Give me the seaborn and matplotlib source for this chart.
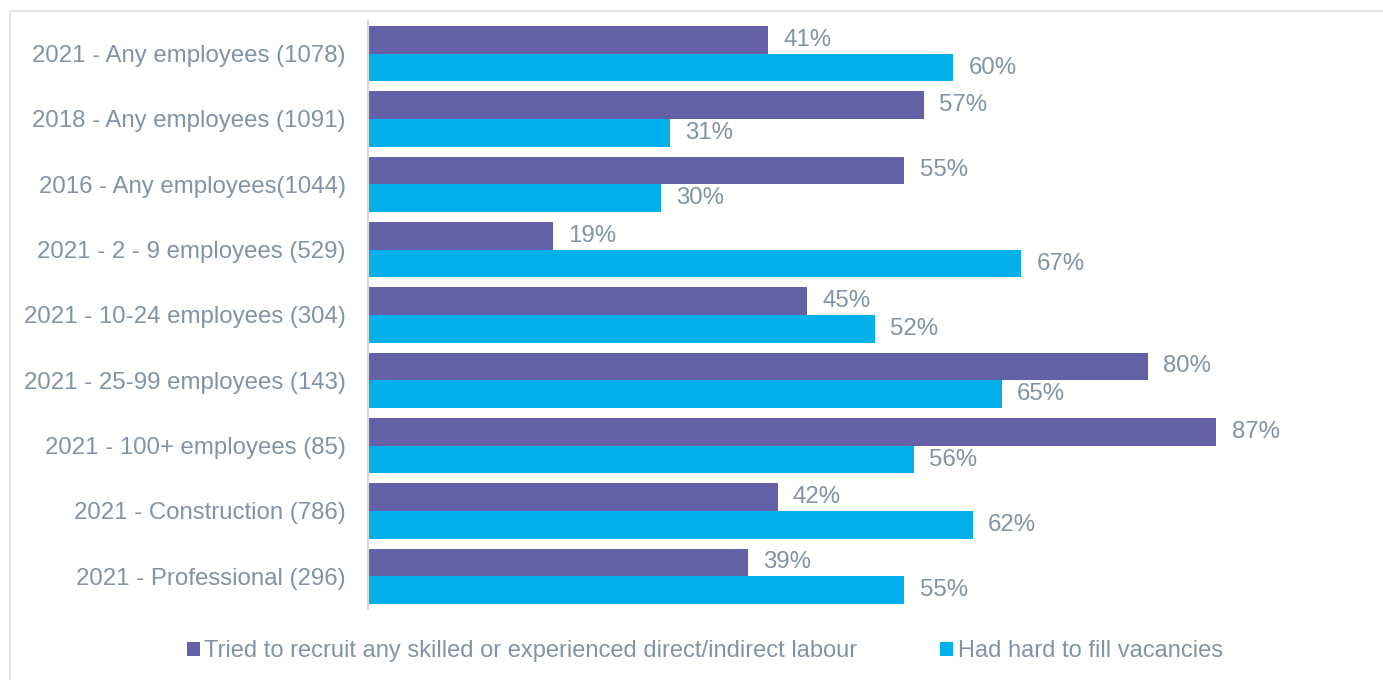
import matplotlib
matplotlib.use("Agg")
import matplotlib.pyplot as plt
from matplotlib.patches import Rectangle, Patch
import seaborn as sns
import pandas as pd

categories = [
    "2021 - Any employees (1078)",
    "2018 - Any employees (1091)",
    "2016 - Any employees(1044)",
    "2021 - 2 - 9 employees (529)",
    "2021 - 10-24 employees (304)",
    "2021 - 25-99 employees (143)",
    "2021 - 100+ employees (85)",
    "2021 - Construction (786)",
    "2021 - Professional (296)",
]
series_names = [
    "Tried to recruit any skilled or experienced direct/indirect labour",
    "Had hard to fill vacancies",
]
tried_recruit = [41, 57, 55, 19, 45, 80, 87, 42, 39]
hard_to_fill = [60, 31, 30, 67, 52, 65, 56, 62, 55]

colors = ["#6561A8", "#00B0EA"]
text_color = "#8193A5"

sns.set_theme(style="white")
plt.rcParams["font.family"] = ["Liberation Sans", "DejaVu Sans"]

df = pd.DataFrame({
    "category": categories * 2,
    "series": [series_names[0]] * len(categories) + [series_names[1]] * len(categories),
    "value": tried_recruit + hard_to_fill,
})

W, H = 1383, 680
fig = plt.figure(figsize=(W / 100, H / 100), dpi=100)
ax = fig.add_axes([368 / W, 1 - 609 / H, (1343 - 368) / W, (609 - 21) / H])

sns.barplot(data=df, y="category", x="value", hue="series", order=categories,
            hue_order=series_names, palette=colors, orient="h", width=0.85,
            saturation=1, edgecolor="none", legend=False, ax=ax)

ax.set_xlim(0, 100)
ax.set_ylim(len(categories) - 0.5, -0.5)
ax.set_xlabel("")
ax.set_ylabel("")
ax.set_xticks([])
ax.tick_params(axis="y", length=0, pad=16, labelsize=17.3, labelcolor=text_color)
for s in ["top", "right", "bottom"]:
    ax.spines[s].set_visible(False)
ax.spines["left"].set_color("#D9D9D9")
ax.spines["left"].set_linewidth(1.5)

for container in ax.containers:
    ax.bar_label(container, labels=[f"{v:.0f}%" for v in container.datavalues],
                 padding=11, fontsize=17.3, color=text_color)

handles = [Patch(facecolor=c, edgecolor="none") for c in colors]
fig.legend(handles, series_names, loc="center", bbox_to_anchor=(0.5095, 1 - 651 / H),
           ncol=2, frameon=False, fontsize=17, labelcolor=text_color,
           handlelength=0.55, handleheight=0.55, handletextpad=0.2, columnspacing=3.5)

fig.patches.append(Rectangle((10 / W, -0.1), 1.2, 1.1 - 11 / H, transform=fig.transFigure,
                             fill=False, edgecolor="#E1E5EA", linewidth=1.5, zorder=0))

fig.savefig("out.png", dpi=100, facecolor="white")
